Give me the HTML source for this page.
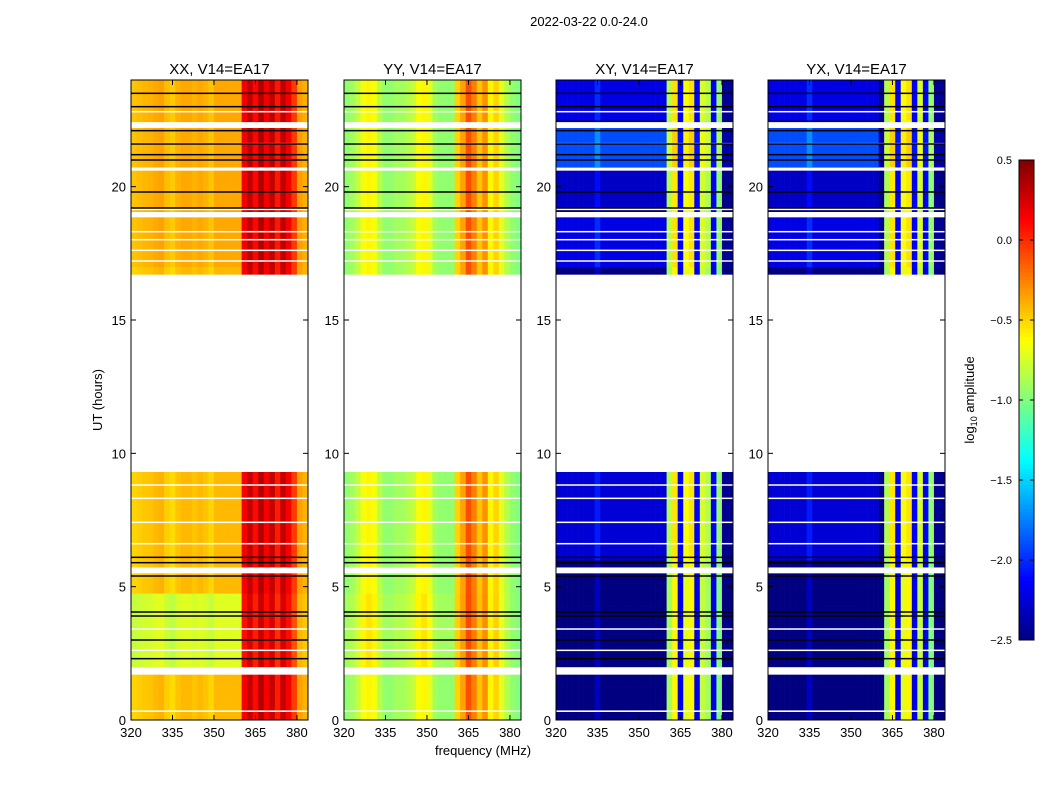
<!DOCTYPE html>
<html><head><meta charset="utf-8"><style>
body{margin:0;background:#fff;}
svg text{font-family:"Liberation Sans",sans-serif;}
</style></head><body>
<svg id="fig" width="1050" height="800" xmlns="http://www.w3.org/2000/svg">
<rect width="1050" height="800" fill="#fff"/>
<text x="589" y="26" font-size="13" text-anchor="middle">2022-03-22 0.0-24.0</text>
<text transform="translate(102,400) rotate(-90)" font-size="13" text-anchor="middle">UT (hours)</text>
<text x="483" y="755" font-size="13" text-anchor="middle">frequency (MHz)</text>
<text transform="translate(974,400) rotate(-90)" font-size="13" text-anchor="middle">log<tspan font-size="9" dy="3">10</tspan><tspan dy="-3"> amplitude</tspan></text>
</svg>
<script>
// ---- data ----
const panelTitles = ["XX, V14=EA17","YY, V14=EA17","XY, V14=EA17","YX, V14=EA17"];
const freqBins = [320,322,324,326,328,330,332,334,336,338,340,342,344,346,348,350,352,354,356,358,360,362,364,366,368,370,372,374,376,378,380,382];
const profXX = [-0.5,-0.48,-0.46,-0.45,-0.42,-0.4,-0.48,-0.52,-0.45,-0.42,-0.42,-0.45,-0.42,-0.45,-0.5,-0.42,-0.42,-0.42,-0.42,-0.42,0.15,0.3,0.1,0.35,0.15,0.3,0.05,0.3,0.15,-0.05,-0.35,-0.4];
const profYY = [-0.95,-0.9,-0.8,-0.65,-0.6,-0.65,-0.85,-0.95,-0.95,-0.9,-0.9,-0.85,-0.8,-0.65,-0.6,-0.7,-0.9,-0.95,-0.95,-0.95,-0.5,-0.35,-0.1,-0.25,-0.45,-0.3,-0.6,-0.5,-0.7,-0.85,-0.95,-1.0];
const profXY = [-2.5,-2.5,-2.5,-2.5,-2.5,-2.5,-2.5,-2.3,-2.5,-2.5,-2.5,-2.5,-2.5,-2.5,-2.5,-2.5,-2.5,-2.5,-2.5,-2.5,-0.9,-0.6,-2.2,-0.7,-0.6,-2.2,-0.8,-0.9,-2.2,-1.0,-2.5,-2.5];
const profYX = [-2.5,-2.5,-2.5,-2.5,-2.5,-2.5,-2.5,-2.3,-2.5,-2.5,-2.5,-2.5,-2.5,-2.5,-2.5,-2.5,-2.5,-2.5,-2.5,-2.5,-2.5,-0.9,-0.6,-2.2,-0.7,-0.6,-2.2,-0.8,-2.2,-1.0,-2.5,-2.5];
const profiles = [profXX, profYY, profXY, profYX];
const boostXX = [[2.0,4.6,-0.3],[17,24,0.05]];
const boostYY = [[2.0,4.6,0.05]];
const boostXY = [[17,19,0.3],[19.2,20.6,0.2],[20.7,22.2,0.6],[22.4,24,0.3],[6,9.3,0.25]];
const boostYX = [[17,19,0.3],[19.2,20.6,0.2],[20.7,22.2,0.6],[22.4,24,0.3],[6,9.3,0.25]];
const boosts = [boostXX, boostYY, boostXY, boostYX];
const whiteGaps = [[1.7,1.98],[5.5,5.72],[9.3,16.7],[18.85,19.05],[19.12,19.22],[20.6,20.72],[22.2,22.42],[0.3,0.36],[2.6,2.64],[3.4,3.44],[6.6,6.64],[7.4,7.44],[8.3,8.34],[8.8,8.84],[17.2,17.24],[17.6,17.64],[18.0,18.04],[18.3,18.34],[21.6,21.64],[22.8,22.84]];
const blackLines = [2.3,3.0,3.9,4.05,5.4,5.9,6.1,19.2,19.8,21.0,21.2,21.6,22.1,23.0,23.5];
const yTicks = [0,5,10,15,20];
const xTicks = [320,335,350,365,380];
const cbTicks = [0.5,0.0,-0.5,-1.0,-1.5,-2.0,-2.5];
const cbLabels = ["0.5","0.0","\u22120.5","\u22121.0","\u22121.5","\u22122.0","\u22122.5"];
// ---- layout ----
const NS="http://www.w3.org/2000/svg";
const svg=document.getElementById('fig');
const panelX=[131,344,556,768], pw=177, yTop=80, yBot=720;
const fMin=320, fMax=384, tMin=0, tMax=24, vMin=-2.5, vMax=0.5;
function yScale(t){return yBot-(t-tMin)/(tMax-tMin)*(yBot-yTop);}
function jet(v){let t=Math.max(0,Math.min(1,(v-vMin)/(vMax-vMin)));
 const c=x=>Math.round(255*Math.max(0,Math.min(1,x)));
 return `rgb(${c(1.5-Math.abs(4*t-3))},${c(1.5-Math.abs(4*t-2))},${c(1.5-Math.abs(4*t-1))})`;}
function mk(tag,attrs,parent){const e=document.createElementNS(NS,tag);for(const k in attrs)e.setAttribute(k,attrs[k]);(parent||svg).appendChild(e);return e;}
const rowStep=0.25;
for(let p=0;p<4;p++){
 const x0=panelX[p];
 const xScale=f=>x0+(f-fMin)/(fMax-fMin)*pw;
 const g=mk('g',{});
 
 
 for(let r=0;r<tMax/rowStep;r++){
  const t=r*rowStep;
  let b=0; for(const bb of boosts[p]) if(t>=bb[0]&&t<bb[1]) b+=bb[2];
  for(let i=0;i<freqBins.length;i++){
   const f=freqBins[i];
   let v=profiles[p][i]+(f<360?b:b*0.2);
   const xa=xScale(f), xb=xScale(f+2);
   const rc=mk('rect',{x:xa.toFixed(2),y:yScale(t+rowStep).toFixed(2),width:(xb-xa+0.3).toFixed(2),height:(yScale(t)-yScale(t+rowStep)+0.3).toFixed(2),fill:jet(v)},g);
   
   
  }
 }
 for(const w of whiteGaps){
  const rc=mk('rect',{x:x0,y:yScale(w[1]),width:pw,height:Math.max(1.5,yScale(w[0])-yScale(w[1])),fill:'#fff'});
  
  
 }
 for(const bl of blackLines){
  const ln=mk('rect',{x:x0,y:yScale(bl)-0.75,width:pw,height:1.5,fill:'#000'});
  
  
 }
 const fr=mk('rect',{x:x0,y:yTop,width:pw,height:yBot-yTop,fill:'none',stroke:'#000','stroke-width':1});
 
 
 const tt=mk('text',{x:x0+pw/2,y:74,'font-size':15,'text-anchor':'middle'});
 tt.textContent=panelTitles[p];
 
 
 for(const yt of yTicks){
  const y=yScale(yt);
  mk('line',{x1:x0,x2:x0+5,y1:y,y2:y,stroke:'#000'});
  mk('line',{x1:x0+pw-5,x2:x0+pw,y1:y,y2:y,stroke:'#000'});
  const lb=mk('text',{x:x0-5,y:y+5,'font-size':13,'text-anchor':'end'});
  lb.textContent=yt;
  
  
 }
 for(const xt of xTicks){
  const x=x0+(xt-fMin)/(fMax-fMin)*pw;
  mk('line',{x1:x,x2:x,y1:yBot,y2:yBot-5,stroke:'#000'});
  mk('line',{x1:x,x2:x,y1:yTop,y2:yTop+5,stroke:'#000'});
  const lb=mk('text',{x:x,y:yBot+17,'font-size':13,'text-anchor':'middle'});
  lb.textContent=xt;
  
  
 }
}
// colorbar
const cbx=1019,cbw=15,cbTop=160,cbBot=640;
const cbg=mk('g',{});


for(let i=0;i<120;i++){
 const v=vMin+(i+0.5)/120*(vMax-vMin);
 const y=cbBot-(i+1)/120*(cbBot-cbTop);
 mk('rect',{x:cbx,y:y,width:cbw,height:(cbBot-cbTop)/120+0.5,fill:jet(v)},cbg);
}
mk('rect',{x:cbx,y:cbTop,width:cbw,height:cbBot-cbTop,fill:'none',stroke:'#000'},cbg);
cbTicks.forEach((v,i)=>{
 const y=cbBot-(v-vMin)/(vMax-vMin)*(cbBot-cbTop);
 mk('line',{x1:cbx,x2:cbx+4,y1:y,y2:y,stroke:'#000'},cbg);
 mk('line',{x1:cbx+cbw-4,x2:cbx+cbw,y1:y,y2:y,stroke:'#000'},cbg);
 const lb=mk('text',{x:1012,y:y+4,'font-size':11,'text-anchor':'end'},cbg);
 lb.textContent=cbLabels[i];
 
 
});
</script>
</body></html>
